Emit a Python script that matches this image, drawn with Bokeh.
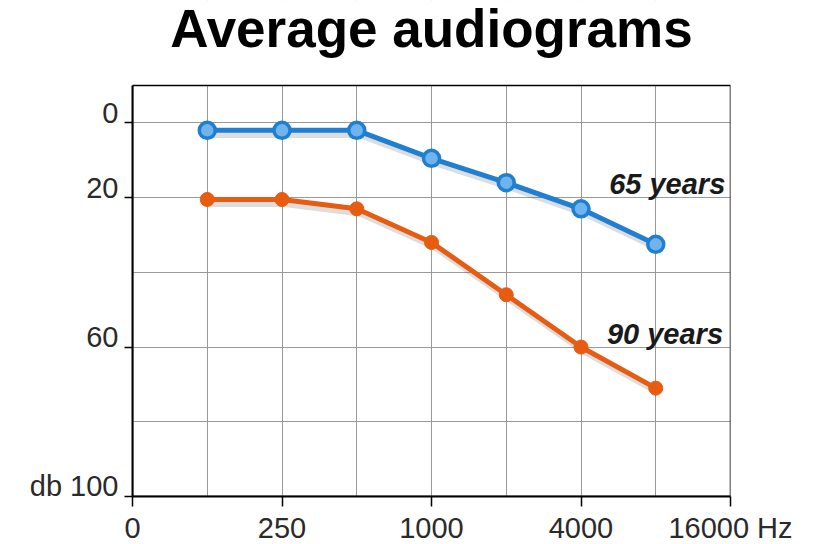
from bokeh.plotting import figure
from bokeh.models import Range1d, FixedTicker, LinearAxis
from bokeh.embed import file_html
from bokeh.resources import INLINE
from bokeh.core.properties import value

# ---- data ----
freq_labels = ["125", "250", "500", "1000", "2000", "4000", "8000"]
freq_pos = [1, 2, 3, 4, 5, 6, 7]          # octave index (0 = "0", 8 = 16000 Hz)
age65 = [2, 2, 2, 9.5, 16, 23, 32.5]
age90 = [20.5, 20.5, 23, 32, 46, 60, 71]
x_tick_pos = [0, 2, 4, 6, 8]
x_tick_labels = ["0", "250", "1000", "4000", "16000 Hz"]
y_tick_pos = [0, 20, 60, 100]
y_tick_labels = ["0", "20", "60", "db 100"]
y_grid = [0, 20, 40, 60, 80]
title_text = "Average audiograms"

BLUE = "#1f7fd2"
ORANGE = "#e85c12"
FONT = "Liberation Sans"

X_MIN, X_MAX = 0, 8
DB_TOP, DB_BOTTOM = -10, 100          # visible plot box
VIEW_TOP = -32.75                     # extra room above the box for the title
LABEL_LIFT = 2.7                      # y labels sit just above their ticks

p = figure(frame_width=598, frame_height=496, min_border_left=132, min_border_right=79,
           min_border_top=0, min_border_bottom=30,
           x_range=Range1d(X_MIN, X_MAX), y_range=Range1d(DB_BOTTOM, VIEW_TOP),
           output_backend="svg", toolbar_location=None)

p.background_fill_color = "white"
p.border_fill_color = "white"
p.outline_line_color = None

# x axis
p.xaxis.ticker = FixedTicker(ticks=x_tick_pos)
p.xaxis.major_label_overrides = dict(zip(x_tick_pos, x_tick_labels))
p.xaxis.major_tick_out = 10
p.xaxis.major_label_standoff = 5

# y axis: line and tick marks only
p.yaxis.ticker = FixedTicker(ticks=y_tick_pos)
p.yaxis.major_label_overrides = {t: "" for t in y_tick_pos}
p.yaxis.bounds = (DB_TOP, DB_BOTTOM)
p.yaxis.major_tick_out = 8
p.yaxis.major_label_standoff = 0

for ax in (p.xaxis, p.yaxis):
    ax.axis_line_color = "black"
    ax.axis_line_width = 2
    ax.major_tick_line_color = "black"
    ax.major_tick_line_width = 1.5
    ax.major_tick_in = 0
    ax.minor_tick_line_color = None
    ax.major_label_text_font = FONT
    ax.major_label_text_font_size = "29px"
    ax.major_label_text_color = "#2a2a2a"

# y axis labels, sitting on top of their tick marks
label_pos = [t - LABEL_LIFT for t in y_tick_pos]
ylab = LinearAxis(ticker=FixedTicker(ticks=label_pos),
                  major_label_overrides=dict(zip(label_pos, y_tick_labels)),
                  axis_line_color=None, major_tick_line_color=None,
                  minor_tick_line_color=None, major_tick_in=0, major_tick_out=0,
                  major_label_standoff=6, major_label_text_font=FONT,
                  major_label_text_font_size="29px", major_label_text_color="#2a2a2a")
p.add_layout(ylab, "left")

# grid
p.xgrid.ticker = FixedTicker(ticks=freq_pos)
p.ygrid.ticker = FixedTicker(ticks=y_grid)
for g in (p.xgrid, p.ygrid):
    g.grid_line_color = "#9a9a9a"
    g.grid_line_width = 1

# white cover over the title area, then the plot box outline
p.quad(left=[X_MIN - 1], right=[X_MAX + 1], top=[VIEW_TOP - 5], bottom=[DB_TOP],
       fill_color="white", line_color=None)
p.quad(left=[X_MIN], right=[X_MAX], top=[DB_TOP], bottom=[DB_BOTTOM],
       fill_color=None, line_color="black", line_width=1.5)

# shadows (derived from data)
sx = [x + 0.04 for x in freq_pos]
p.line(sx, [v + 1.1 for v in age65], line_color="#555555", line_width=7, line_alpha=0.2)
p.line(sx, [v + 1.1 for v in age90], line_color="#555555", line_width=7, line_alpha=0.2)

# series
p.line(freq_pos, age65, line_color=BLUE, line_width=5)
p.scatter(freq_pos, age65, size=16, fill_color="#6fb4ec", line_color=BLUE, line_width=3.5)
p.line(freq_pos, age90, line_color=ORANGE, line_width=5)
p.scatter(freq_pos, age90, size=14, fill_color=ORANGE, line_color=ORANGE)

# series labels
p.text(x=[7.93], y=[16.3], text=["65 years"], text_align="right", text_baseline="alphabetic",
       text_font=value(FONT), text_font_size="29px", text_font_style="bold italic",
       text_color="#1a1a1a")
p.text(x=[7.9], y=[56.5], text=["90 years"], text_align="right", text_baseline="alphabetic",
       text_font=value(FONT), text_font_size="29px", text_font_style="bold italic",
       text_color="#1a1a1a")

# chart title
p.text(x=[(X_MIN + X_MAX) / 2], y=[-25.3], text=[title_text], text_align="center",
       text_baseline="alphabetic", text_font=value(FONT), text_font_size="53px",
       text_font_style="bold", text_color="black")

open("out.html", "w").write(file_html(p, INLINE))
